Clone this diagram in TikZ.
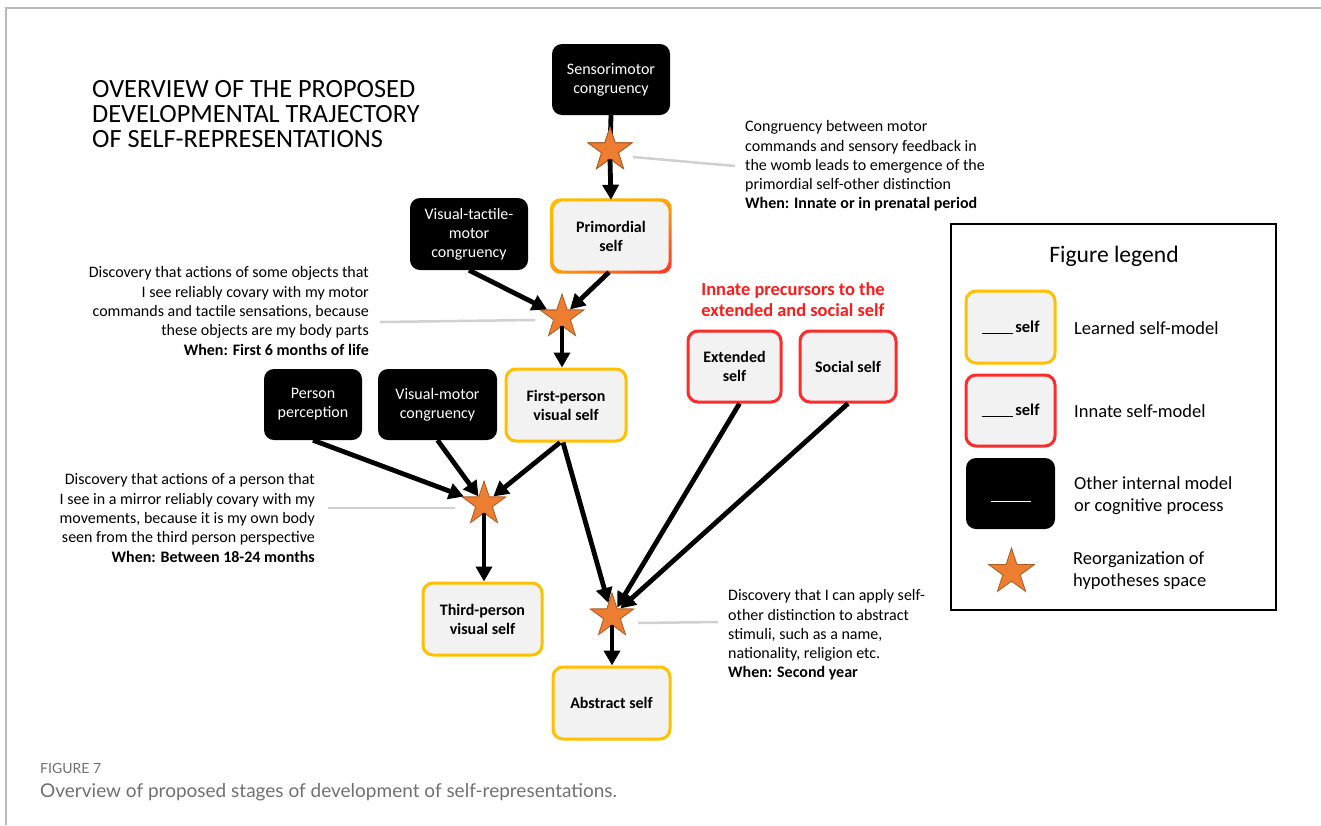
\documentclass[tikz,border=0pt]{standalone}
\usepackage{fontspec}
\setmainfont{Carlito}
\newfontfamily\capfont{Lato}
\usetikzlibrary{arrows.meta,shapes.geometric,shadings}
\definecolor{learned}{HTML}{FFC000}
\definecolor{innate}{HTML}{FF2B2B}
\definecolor{boxfill}{HTML}{F2F2F2}
\definecolor{starfill}{HTML}{ED7D31}
\definecolor{stardraw}{HTML}{AE5A21}
\definecolor{leadgray}{HTML}{D0D0D0}
\definecolor{framegray}{HTML}{B9B9B9}
\definecolor{capgray}{HTML}{707070}
\definecolor{headred}{HTML}{FF1A1A}
\tikzset{
  base/.style={rounded corners=10pt, inner sep=0pt, align=center,
    font=\fontsize{16}{19}\selectfont},
  other/.style={base, fill=black, text=white},
  learnedbox/.style={base, fill=boxfill, draw=learned, line width=3pt, font=\fontsize{16}{19}\selectfont\bfseries},
  innatebox/.style={base, fill=boxfill, draw=innate, line width=3pt, font=\fontsize{16}{19}\selectfont\bfseries},
  reorg/.style={star, star points=5, star point ratio=2.6, fill=starfill,
    draw=stardraw, line width=0.8pt, inner sep=0pt, minimum size=46pt},
  flow/.style={line width=4.8pt, -{Triangle[length=15pt,width=16pt]}},
  link/.style={line width=4.8pt},
  leader/.style={draw=leadgray, line width=2.5pt},
  note/.style={inner sep=0pt, font=\fontsize{16}{19.3}\selectfont},
  legtext/.style={inner sep=0pt, anchor=west, align=left, font=\fontsize{18.5}{22}\selectfont},
}
\begin{document}
\begin{tikzpicture}[x=1pt, y=-1pt]
\useasboundingbox (0,0) rectangle (1321,825);
% page frame
\draw[framegray, line width=2pt] (6,825) -- (6,8) -- (1321,8);

% title
\node[inner sep=0pt, anchor=west, align=left, font=\fontsize{26.3}{25}\selectfont]
  (title) at (92,114) {OVERVIEW OF THE PROPOSED\\DEVELOPMENTAL TRAJECTORY\\OF SELF-REPRESENTATIONS};

% boxes
\node[other, minimum width=118pt, minimum height=71pt] (sm) at (611,79.5) {Sensorimotor\\congruency};
\node[base, minimum width=118pt, minimum height=72pt, fill=boxfill] (prim) at (611,236) {};
% primordial self: border blends from learned (yellow) to innate (red)
\begin{scope}[even odd rule, rounded corners=10pt]
  \clip
    ([xshift=-1.5pt,yshift=1.5pt]prim.north west) rectangle ([xshift=1.5pt,yshift=-1.5pt]prim.south east)
    ([xshift=1.5pt,yshift=-1.5pt]prim.north west) rectangle ([xshift=-1.5pt,yshift=1.5pt]prim.south east);
  \shade[upper left=learned, upper right=learned!85!innate, lower left=learned!80!innate, lower right=innate]
    ([xshift=-3pt,yshift=3pt]prim.north west) rectangle ([xshift=3pt,yshift=-3pt]prim.south east);
\end{scope}
\node[font=\fontsize{16}{19}\selectfont\bfseries, align=center] (primtext) at (prim) {Primordial\\self};
\node[other, minimum width=118pt, minimum height=72pt] (vtm) at (469,234) {Visual-tactile-\\motor\\congruency};
\node[learnedbox, minimum width=120pt, minimum height=72pt] (fp) at (566,405) {First-person\\visual self};
\node[other, minimum width=98pt, minimum height=71pt] (pp) at (313,404.5) {Person\\perception};
\node[other, minimum width=119pt, minimum height=71pt] (vm) at (437.5,404.5) {Visual-motor\\congruency};
\node[learnedbox, minimum width=119pt, minimum height=72pt] (tp) at (482.5,619) {Third-person\\visual self};
\node[learnedbox, minimum width=117pt, minimum height=72pt] (abs) at (611.5,703) {Abstract self};
\node[innatebox, minimum width=93pt, minimum height=71pt] (ext) at (734.5,366.5) {Extended\\self};
\node[innatebox, minimum width=96pt, minimum height=71pt] (soc) at (848,366.5) {Social self};

\node[inner sep=0pt, align=center, text=headred, font=\fontsize{18.4}{21}\selectfont\bfseries]
  (innhead) at (793,300) {Innate precursors to the\\extended and social self};

% reorganization stars
\node[reorg] (s1) at (610,150) {};
\node[reorg] (s2) at (562,317) {};
\node[reorg] (s3) at (484,504) {};
\node[reorg] (s4) at (612,616) {};

% arrows
\draw[link] (sm.south) -- (s1.center);
\node[reorg] (s1top) at (s1) {};
\draw[flow] (s1.south) -- (prim.north);
\draw[flow] (vtm.south) -- (s2);
\draw[flow] ([xshift=-2pt]prim.south) -- (s2);
\draw[flow] (s2.south) -- (fp.north -| s2.south);
\draw[flow] (pp.south) -- (s3);
\draw[flow] (vm.south) -- (s3);
\draw[flow] ([xshift=-6pt]fp.south) -- (s3);
\draw[flow] (s3.south) -- (tp.north -| s3.south);
\draw[flow] ([xshift=-3pt]fp.south) -- (s4);
\draw[flow] ([xshift=5pt]ext.south) -- (s4);
\draw[flow] (soc.south) -- (s4);
\draw[flow] (s4.south) -- (abs.north -| s4.south);

% explanatory notes
\node[note, anchor=west, align=left] (t1) at (745,166)
  {Congruency between motor\\commands and sensory feedback in\\the womb leads to emergence of the\\primordial self-other distinction\\\textbf{When: Innate or in prenatal period}};
\node[note, anchor=east, align=right] (t2) at (369,311)
  {Discovery that actions of some objects that\\I see reliably covary with my motor\\commands and tactile sensations, because\\these objects are my body parts\\\textbf{When: First 6 months of life}};
\node[note, anchor=east, align=right] (t3) at (315,518)
  {Discovery that actions of a person that\\I see in a mirror reliably covary with my\\movements, because it is my own body\\seen from the third person perspective\\\textbf{When: Between 18-24 months}};
\node[note, anchor=west, align=left] (t4) at (728,635)
  {Discovery that I can apply self-\\other distinction to abstract\\stimuli, such as a name,\\nationality, religion etc.\\\textbf{When: Second year}};

% leader lines
\coordinate (l1a) at (633,157); \coordinate (l1b) at (735,166);
\coordinate (l2a) at (535,320); \coordinate (l2b) at (380,322);
\coordinate (l3a) at (455,508); \coordinate (l3b) at (328,508);
\coordinate (l4a) at (638,623); \coordinate (l4b) at (718,622);
\draw[leader] (l1a) -- (l1b);
\draw[leader] (l2a) -- (l2b);
\draw[leader] (l3a) -- (l3b);
\draw[leader] (l4a) -- (l4b);

% legend
\draw[line width=2pt] (951,224) rectangle (1276,610);
\node[inner sep=0pt, font=\fontsize{23.6}{26}\selectfont] (legtitle) at (1114,256) {Figure legend};
\node[learnedbox, minimum width=89pt, minimum height=72pt, font=\fontsize{16.5}{18}\selectfont\bfseries] (lg1) at (1010.5,327)
  {\rule[-1.5pt]{31pt}{1pt}\,self};
\node[innatebox, minimum width=89pt, minimum height=71pt, font=\fontsize{16.5}{18}\selectfont\bfseries] (lg2) at (1010.5,410.5)
  {\rule[-1.5pt]{31pt}{1pt}\,self};
\node[other, minimum width=89pt, minimum height=71pt] (lg3) at (1010.5,493.5) {};
\draw[white, line width=0.9pt] ([xshift=-20pt,yshift=-7.5pt]lg3.center) -- ([xshift=20pt,yshift=-7.5pt]lg3.center);
\node[reorg, minimum size=48pt] (lg4) at (1011.5,572) {};
\node[legtext] (lt1) at (1074,328) {Learned self-model};
\node[legtext] (lt2) at (1074,411) {Innate self-model};
\node[legtext] (lt3) at (1074,496) {Other internal model\\or cognitive process};
\node[legtext] (lt4) at (1073,571) {Reorganization of\\hypotheses space};

% caption
\node[inner sep=0pt, anchor=west, text=capgray, font=\capfont\fontsize{14}{16}\selectfont] (figno) at (40,768) {FIGURE 7};
\node[inner sep=0pt, anchor=west, text=capgray, font=\capfont\fontsize{19}{22}\selectfont] (caption) at (40,792) {Overview of proposed stages of development of self-representations.};
\end{tikzpicture}
\end{document}
